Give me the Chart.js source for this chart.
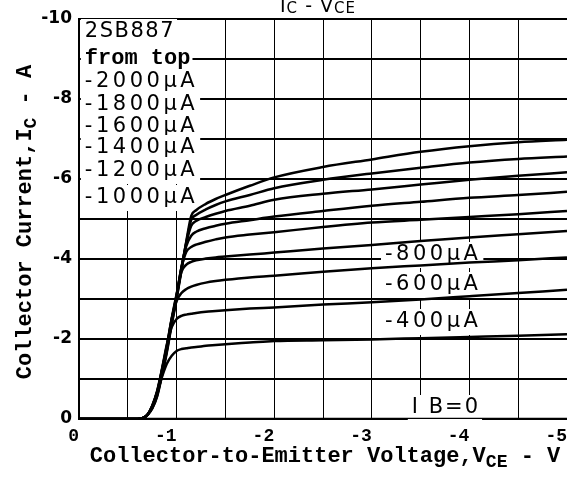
<!DOCTYPE html>
<html>
<head>
<meta charset="utf-8">
<script src="https://cdn.jsdelivr.net/npm/chart.js@4.4.1/dist/chart.umd.min.js"></script>
<style>
  html, body { margin: 0; padding: 0; background: #fff; }
  #wrap { width: 567px; height: 477px; }
</style>
</head>
<body>
<div id="wrap"><canvas id="myChart" width="567" height="477"></canvas></div>
<script>
// collector-emitter voltage (V) shared by all curves
const vce = [0, -0.5, -0.6, -0.65, -0.7, -0.75, -0.8, -0.85, -0.9, -0.95, -1.0, -1.05, -1.1, -1.15, -1.2, -1.3, -1.4, -1.5, -1.75, -2, -2.5, -3, -3.5, -4, -4.5, -5];

// collector current (A), one list per base current
const ic2000 = [0, 0, 0, -0.02, -0.1, -0.26, -0.56, -1.08, -1.66, -2.36, -3.0, -3.72, -4.45, -5.08, -5.22, -5.38, -5.5, -5.6, -5.83, -6.04, -6.3, -6.49, -6.68, -6.82, -6.92, -6.98];
const ic1800 = [0, 0, 0, -0.02, -0.1, -0.27, -0.58, -1.11, -1.7, -2.4, -3.03, -3.75, -4.42, -4.98, -5.1, -5.24, -5.35, -5.44, -5.6, -5.77, -5.98, -6.14, -6.28, -6.41, -6.5, -6.56];
const ic1600 = [0, 0, 0, -0.02, -0.1, -0.28, -0.6, -1.14, -1.73, -2.43, -3.06, -3.78, -4.4, -4.83, -4.95, -5.05, -5.13, -5.2, -5.33, -5.48, -5.63, -5.74, -5.86, -5.98, -6.08, -6.17];
const ic1400 = [0, 0, 0, -0.02, -0.1, -0.29, -0.62, -1.17, -1.76, -2.46, -3.08, -3.8, -4.33, -4.58, -4.68, -4.77, -4.83, -4.88, -4.97, -5.06, -5.2, -5.33, -5.43, -5.53, -5.6, -5.68];
const ic1200 = [0, 0, 0, -0.02, -0.1, -0.3, -0.64, -1.19, -1.78, -2.49, -3.1, -3.78, -4.18, -4.3, -4.36, -4.43, -4.49, -4.54, -4.61, -4.67, -4.8, -4.91, -4.98, -5.05, -5.12, -5.2];
const ic1000 = [0, 0, 0, -0.02, -0.1, -0.31, -0.66, -1.21, -1.81, -2.52, -3.12, -3.68, -3.86, -3.93, -3.97, -4.01, -4.04, -4.06, -4.11, -4.16, -4.26, -4.35, -4.45, -4.54, -4.62, -4.7];
const ic800 = [0, 0, 0, -0.02, -0.1, -0.32, -0.68, -1.23, -1.84, -2.5, -2.95, -3.15, -3.25, -3.31, -3.35, -3.41, -3.45, -3.48, -3.54, -3.58, -3.68, -3.77, -3.84, -3.91, -3.97, -4.04];
const ic600 = [0, 0, 0, -0.02, -0.1, -0.33, -0.7, -1.25, -1.86, -2.3, -2.5, -2.58, -2.61, -2.63, -2.65, -2.68, -2.7, -2.72, -2.76, -2.79, -2.86, -2.92, -2.99, -3.07, -3.15, -3.23];
const ic400 = [0, 0, 0, -0.02, -0.1, -0.32, -0.66, -1.05, -1.38, -1.58, -1.7, -1.75, -1.77, -1.79, -1.8, -1.83, -1.85, -1.87, -1.91, -1.95, -1.97, -1.99, -2.02, -2.05, -2.08, -2.12];
// IB = 0 lies on the axis
const vceZero = [0, -5];
const icZero = [0, 0];

const seriesNames = ['-2000µA', '-1800µA', '-1600µA', '-1400µA', '-1200µA', '-1000µA', '-800µA', '-600µA', '-400µA'];
const seriesValues = [ic2000, ic1800, ic1600, ic1400, ic1200, ic1000, ic800, ic600, ic400];

// texts on the plot, placed in axis units (V, A)
const notes = [
    { text: '2SB887', v: -0.06, i: -9.675, gap: 1.5 },
    { text: 'from top', v: -0.06, i: -9.025, mono: true },
    { text: '-2000µA', v: -0.06, i: -8.425 },
    { text: '-1800µA', v: -0.06, i: -7.85 },
    { text: '-1600µA', v: -0.06, i: -7.3 },
    { text: '-1400µA', v: -0.06, i: -6.775 },
    { text: '-1200µA', v: -0.06, i: -6.2 },
    { text: '-1000µA', v: -0.06, i: -5.525 },
    { text: '-800µA', v: -3.135, i: -4.1 },
    { text: '-600µA', v: -3.135, i: -3.35 },
    { text: '-400µA', v: -3.135, i: -2.425 },
    { text: 'I B=0', v: -3.41, i: -0.275, gap: 2 }
];

const topTitle = [['I', false], ['C', true], [' - V', false], ['CE', true]];
const xTitle = [['Collector-to-Emitter Voltage,V', false], ['CE', true], [' - V', false]];
const yTitle = [['Collector Current,I', false], ['C', true], [' - A', false]];

const MONO = '"Liberation Mono", "Courier New", monospace';
const SANS = '"DejaVu Sans", sans-serif';

function drawRuns(ctx, runs, cx, cy, size, family, weight, subShift) {
    const main = `${weight} ${size}px ${family}`;
    const sub = `${weight} ${Math.round(size * 0.8)}px ${family}`;
    let total = 0;
    runs.forEach(([t, s]) => { ctx.font = s ? sub : main; total += ctx.measureText(t).width; });
    let xx = cx - total / 2;
    runs.forEach(([t, s]) => {
        ctx.font = s ? sub : main;
        ctx.fillText(t, xx, cy + (s ? subShift : 0));
        xx += ctx.measureText(t).width;
    });
}

const annotate = {
    id: 'annotate',
    beforeDatasetsDraw(chart) {
        const { ctx, chartArea, scales: { x, y } } = chart;
        ctx.save();
        ctx.textBaseline = 'middle';
        ctx.textAlign = 'left';
        notes.forEach(n => {
            const gap = n.mono ? 0 : (n.gap !== undefined ? n.gap : 3.5);
            ctx.font = n.mono ? `bold 22px ${MONO}` : `21px ${SANS}`;
            ctx.letterSpacing = '0px';
            const w = ctx.measureText(n.text).width + gap * n.text.length;
            ctx.letterSpacing = gap + 'px';
            const px = x.getPixelForValue(n.v);
            const py = y.getPixelForValue(n.i);
            const left = Math.max(px - 4, chartArea.left + 1);
            ctx.fillStyle = '#fff';
            ctx.fillRect(left, py - 13, px + w + 2 - left, 26);
            ctx.fillStyle = '#000';
            ctx.fillText(n.text, px, py);
        });
        ctx.restore();
    },
    afterDraw(chart) {
        const { ctx } = chart;
        ctx.save();
        ctx.fillStyle = '#000';
        ctx.textBaseline = 'alphabetic';
        ctx.textAlign = 'left';
        ctx.letterSpacing = '1px';
        drawRuns(ctx, topTitle, 318, 12, 19, SANS, 'normal', 1);
        ctx.letterSpacing = '0px';
        drawRuns(ctx, xTitle, 325, 462, 22, MONO, 'bold', 5);
        ctx.translate(31, 222);
        ctx.rotate(-Math.PI / 2);
        drawRuns(ctx, yTitle, 0, 0, 22, MONO, 'bold', 5);
        ctx.restore();
    }
};

const ctx = document.getElementById('myChart').getContext('2d');

const datasets = seriesValues.map((vals, k) => ({
    label: seriesNames[k],
    data: vce.map((v, j) => ({ x: v, y: vals[j] })),
    borderColor: '#000',
    borderWidth: 2.5,
    pointRadius: 0,
    cubicInterpolationMode: 'monotone',
    fill: false
}));
datasets.push({
    label: 'IB=0',
    data: vceZero.map((v, j) => ({ x: v, y: icZero[j] })),
    borderColor: '#000',
    borderWidth: 2.5,
    pointRadius: 0,
    fill: false
});

new Chart(ctx, {
    type: 'line',
    data: { datasets },
    options: {
        responsive: false,
        animation: false,
        layout: { padding: { top: 19, left: 0, right: 0, bottom: 0 } },
        plugins: {
            legend: { display: false },
            tooltip: { enabled: false }
        },
        scales: {
            x: {
                type: 'linear',
                min: -5,
                max: 0,
                reverse: true,
                afterFit(s) { s.height = 58; s.paddingLeft = 0; s.paddingRight = 0; },
                ticks: {
                    stepSize: 0.5,
                    autoSkip: false,
                    maxRotation: 0,
                    align: 'end',
                    padding: 7,
                    color: '#000',
                    font: { family: MONO, size: 18, weight: 'bold' },
                    callback: v => Number.isInteger(v) ? String(v === 0 ? 0 : v) : ''
                },
                grid: { color: '#000', lineWidth: 1, drawTicks: false },
                border: { color: '#000', width: 2 }
            },
            y: {
                type: 'linear',
                min: -10,
                max: 0,
                reverse: true,
                afterFit(s) { s.width = 79; s.paddingTop = 0; s.paddingBottom = 0; },
                ticks: {
                    stepSize: 1,
                    padding: 7,
                    color: '#000',
                    font: { family: SANS, size: 17, weight: 'bold' },
                    callback: v => v % 2 === 0 ? String(v === 0 ? 0 : v) : ''
                },
                grid: { color: '#000', lineWidth: 2, drawTicks: false },
                border: { color: '#000', width: 2 }
            }
        }
    },
    plugins: [annotate]
});
</script>
</body>
</html>
